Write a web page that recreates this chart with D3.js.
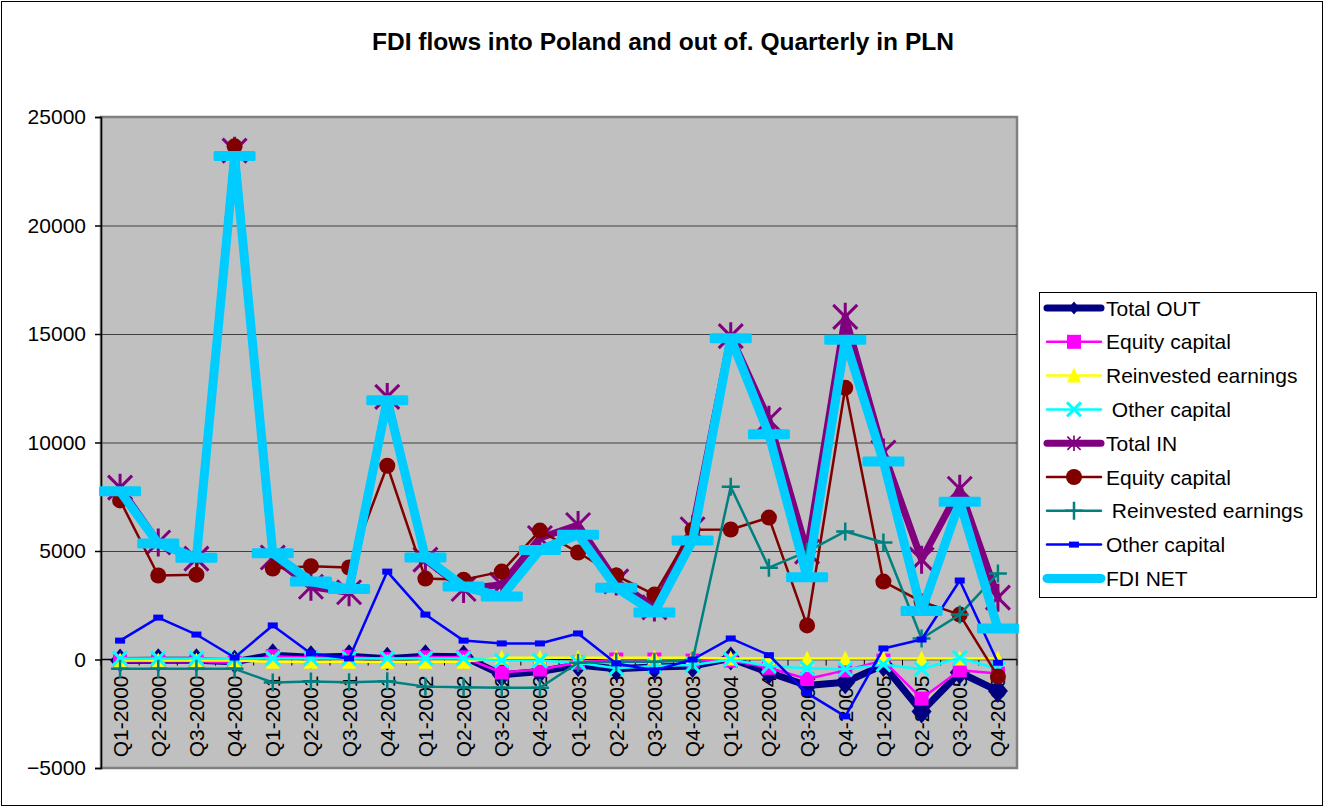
<!DOCTYPE html>
<html>
<head>
<meta charset="utf-8">
<script src="https://cdn.jsdelivr.net/npm/d3@7"></script>
<style>
  body { margin: 0; background: #fff; }
  svg text { font-family: "Liberation Sans", Arial, sans-serif; }
</style>
</head>
<body>
<div id="chart"></div>
<script>
(function() {
    "use strict";

    var categories = ["Q1-2000", "Q2-2000", "Q3-2000", "Q4-2000", "Q1-2001", "Q2-2001", "Q3-2001", "Q4-2001",
        "Q1-2002", "Q2-2002", "Q3-2002", "Q4-2002", "Q1-2003", "Q2-2003", "Q3-2003", "Q4-2003",
        "Q1-2004", "Q2-2004", "Q3-2004", "Q4-2004", "Q1-2005", "Q2-2005", "Q3-2005", "Q4-2005"];

    var totalOut = [-50, -30, -30, -100, 200, 100, 150, 30, 150, 130, -700, -550, -250, -430, -350, -300, 50, -600, -1200, -1050, -250, -2400, -600, -1450];
    var equityOut = [-80, -80, -80, -150, 150, 80, 120, 20, 100, 100, -600, -460, -150, 0, 0, -50, -50, -380, -900, -500, -50, -1800, -500, -650];
    var reinvOut = [-50, -50, -50, -50, -100, -100, -100, -100, -100, -100, 80, 80, 80, 80, 80, 80, 50, 50, 50, 50, 50, 50, 50, 50];
    var otherOut = [50, 50, 50, 50, 50, 50, 50, 50, 50, 50, -50, -50, -150, -400, -300, -250, 0, -300, -400, -450, -230, -450, 80, -450];
    var totalIn = [7920, 5390, 4650, 23450, 4700, 3350, 3100, 12100, 4600, 3250, 3450, 5600, 6200, 3600, 2400, 6000, 14900, 11050, 4970, 15790, 9540, 4600, 7870, 2850];
    var equityIn = [7330, 3870, 3910, 23650, 4190, 4300, 4240, 8930, 3730, 3680, 4050, 5940, 4930, 3870, 2990, 5980, 5990, 6540, 1570, 12520, 3590, 2670, 2070, -780];
    var reinvIn = [-430, -430, -430, -430, -1060, -1010, -1050, -1000, -1250, -1280, -1300, -1300, -150, -100, -100, -50, 7960, 4230, 4970, 5900, 5390, 970, 2070, 3960];
    var otherIn = [870, 1930, 1150, 90, 1570, 280, 50, 4050, 2070, 870, 740, 740, 1200, -180, -500, 0, 970, 200, -1550, -2620, 510, 920, 3640, -150];
    var fdiNet = [7750, 5340, 4690, 23200, 4900, 3590, 3250, 11950, 4700, 3360, 2900, 5050, 5750, 3310, 2170, 5480, 14800, 10380, 3790, 14730, 9120, 2230, 7270, 1430];

    var yTicks = [-5000, 0, 5000, 10000, 15000, 20000, 25000];

    var series = [
        { name: "Total OUT", values: totalOut, color: "#000080", width: 7, marker: "diamond" },
        { name: "Equity capital", values: equityOut, color: "#FF00FF", width: 2.5, marker: "square" },
        { name: "Reinvested earnings", values: reinvOut, color: "#FFFF00", width: 2.5, marker: "triangle" },
        { name: " Other capital", values: otherOut, color: "#00FFFF", width: 2.5, marker: "x" },
        { name: "Total IN", values: totalIn, color: "#800080", width: 7, marker: "asterisk" },
        { name: "Equity capital", values: equityIn, color: "#800000", width: 2.5, marker: "circle" },
        { name: " Reinvested earnings", values: reinvIn, color: "#008080", width: 2.5, marker: "plus" },
        { name: "Other capital", values: otherIn, color: "#0000FF", width: 2.5, marker: "smallrect" },
        { name: "FDI NET", values: fdiNet, color: "#00CCFF", width: 9, marker: "dash" }
    ];

    var W = 1324, H = 807;
    var plot = { left: 101, top: 117, right: 1017, bottom: 768 };
    var fontSize = "21px";

    var svg = d3.select("#chart").append("svg")
        .attr("width", W)
        .attr("height", H);

    // chart area border
    svg.append("rect")
        .attr("x", 1.5).attr("y", 1.5)
        .attr("width", W - 3).attr("height", H - 3)
        .attr("fill", "#fff")
        .attr("stroke", "#000")
        .attr("stroke-width", 1);

    svg.append("text")
        .attr("x", 663)
        .attr("y", 50)
        .attr("text-anchor", "middle")
        .attr("textLength", 582)
        .attr("lengthAdjust", "spacingAndGlyphs")
        .style("font-size", "24.5px")
        .style("font-weight", "bold")
        .text("FDI flows into Poland and out of. Quarterly in PLN");

    var x = d3.scalePoint()
        .domain(categories)
        .range([plot.left, plot.right])
        .padding(0.5);

    var y = d3.scaleLinear()
        .domain([-5000, 25000])
        .range([plot.bottom, plot.top]);

    var step = x.step();

    // plot area
    svg.append("rect")
        .attr("x", plot.left).attr("y", plot.top)
        .attr("width", plot.right - plot.left)
        .attr("height", plot.bottom - plot.top)
        .attr("fill", "#C0C0C0")
        .attr("stroke", "#808080")
        .attr("stroke-width", 2.5);

    // gridlines
    svg.append("g")
        .selectAll("line")
        .data(yTicks.filter(function(t) { return t !== -5000 && t !== 25000 && t !== 0; }))
        .join("line")
        .attr("x1", plot.left).attr("x2", plot.right)
        .attr("y1", function(d) { return y(d) + 0.5; })
        .attr("y2", function(d) { return y(d) + 0.5; })
        .attr("stroke", "#404040")
        .attr("stroke-width", 1);

    // y axis
    var yAxis = d3.axisLeft(y)
        .tickValues(yTicks)
        .tickSize(6)
        .tickPadding(9)
        .tickFormat(d3.format("d"));

    var yg = svg.append("g")
        .attr("transform", "translate(" + plot.left + ",0)")
        .call(yAxis);
    yg.select(".domain").attr("stroke", "#000").attr("stroke-width", 1.5);
    yg.selectAll(".tick line").attr("stroke", "#000").attr("stroke-width", 1.5);
    yg.selectAll(".tick text")
        .style("font-size", fontSize)
        .style("font-family", "'Liberation Sans', Arial, sans-serif")
        .attr("fill", "#000");

    // x axis at zero
    var zeroY = y(0);
    svg.append("line")
        .attr("x1", plot.left).attr("x2", plot.right)
        .attr("y1", zeroY).attr("y2", zeroY)
        .attr("stroke", "#000")
        .attr("stroke-width", 1.5);

    svg.append("g")
        .selectAll("line")
        .data(d3.range(categories.length + 1))
        .join("line")
        .attr("x1", function(i) { return plot.left + i * step; })
        .attr("x2", function(i) { return plot.left + i * step; })
        .attr("y1", zeroY)
        .attr("y2", zeroY + 6)
        .attr("stroke", "#000")
        .attr("stroke-width", 1);

    svg.append("g")
        .selectAll("text")
        .data(categories)
        .join("text")
        .attr("transform", function(d) { return "translate(" + x(d) + "," + (zeroY + 16) + ") rotate(-90)"; })
        .attr("text-anchor", "end")
        .attr("dy", "0.36em")
        .style("font-size", fontSize)
        .text(function(d) { return d; });

    // marker drawing, k scales the marker down for the legend
    function drawMarker(sel, s, k) {
        var c = s.color;
        if (s.marker === "diamond") {
            sel.append("path").attr("d", "M0,-12L10,0L0,12L-10,0Z").attr("fill", c)
                .attr("transform", "scale(" + k + ")");
        } else if (s.marker === "square") {
            sel.append("rect").attr("x", -7).attr("y", -7).attr("width", 14).attr("height", 14).attr("fill", c);
        } else if (s.marker === "triangle") {
            sel.append("path").attr("d", "M0,-8L7,7L-7,7Z").attr("fill", c);
        } else if (s.marker === "x") {
            sel.append("path").attr("d", "M-7,-7L7,7M7,-7L-7,7").attr("stroke", c).attr("stroke-width", 3).attr("fill", "none");
        } else if (s.marker === "asterisk") {
            sel.append("path").attr("d", "M-12,-12L12,12M12,-12L-12,12M0,-14L0,14").attr("stroke", c).attr("stroke-width", 3).attr("fill", "none")
                .attr("transform", "scale(" + k + ")");
        } else if (s.marker === "circle") {
            sel.append("circle").attr("r", 8).attr("fill", c);
        } else if (s.marker === "plus") {
            sel.append("path").attr("d", "M-9,0L9,0M0,-9L0,9").attr("stroke", c).attr("stroke-width", 2.5).attr("fill", "none");
        } else if (s.marker === "smallrect") {
            sel.append("rect").attr("x", -5).attr("y", -3).attr("width", 10).attr("height", 6).attr("fill", c);
        } else if (s.marker === "dash") {
            sel.append("rect").attr("x", -21).attr("y", -5).attr("width", 42).attr("height", 10).attr("rx", 1.5).attr("fill", c);
        }
    }

    var line = d3.line()
        .x(function(d, i) { return x(categories[i]); })
        .y(function(d) { return y(d); });

    var seriesG = svg.append("g")
        .selectAll("g")
        .data(series)
        .join("g");

    seriesG.append("path")
        .attr("d", function(s) { return line(s.values); })
        .attr("fill", "none")
        .attr("stroke", function(s) { return s.color; })
        .attr("stroke-width", function(s) { return s.width; })
        .attr("stroke-linejoin", "round")
        .attr("stroke-linecap", "round");

    seriesG.each(function(s) {
        d3.select(this).selectAll("g.mk")
            .data(s.values)
            .join("g")
            .attr("class", "mk")
            .attr("transform", function(d, i) { return "translate(" + x(categories[i]) + "," + y(d) + ")"; })
            .each(function() { drawMarker(d3.select(this), s, 1); });
    });

    // legend
    var legend = svg.append("g");
    legend.append("rect")
        .attr("x", 1039.5).attr("y", 292.5)
        .attr("width", 277).attr("height", 305)
        .attr("fill", "#fff")
        .attr("stroke", "#000")
        .attr("stroke-width", 1);

    var rowH = 33.8;
    var items = legend.selectAll("g.item")
        .data(series)
        .join("g")
        .attr("class", "item")
        .attr("transform", function(s, i) { return "translate(0," + (308 + i * rowH) + ")"; });

    items.append("line")
        .attr("x1", 1047).attr("x2", 1101)
        .attr("y1", 0).attr("y2", 0)
        .attr("stroke", function(s) { return s.color; })
        .attr("stroke-width", function(s) { return s.width; })
        .attr("stroke-linecap", "round");

    items.each(function(s) {
        var g = d3.select(this).append("g").attr("transform", "translate(1074,0)");
        if (s.marker === "dash") return;
        drawMarker(g, s, 0.55);
    });

    items.append("text")
        .attr("x", 1106)
        .attr("y", 0)
        .attr("dy", "0.36em")
        .style("font-size", fontSize)
        .style("white-space", "pre")
        .text(function(s) { return s.name; });
})();
</script>
</body>
</html>
